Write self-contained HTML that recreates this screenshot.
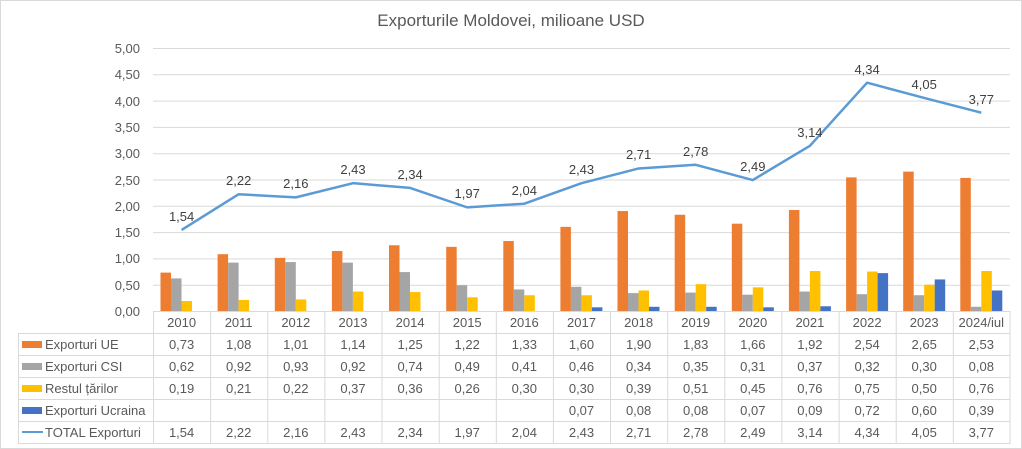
<!DOCTYPE html>
<html><head><meta charset="utf-8"><style>
html,body{margin:0;padding:0;background:#fff}
svg{display:block;font-family:"Liberation Sans",Arial,sans-serif}
</style></head><body>
<svg width="1022" height="449" viewBox="0 0 1022 449" xmlns="http://www.w3.org/2000/svg">
<rect x="0.5" y="0.5" width="1021" height="448" fill="#fff" stroke="#d9d9d9"/>
<text x="511" y="26" text-anchor="middle" font-size="17" fill="#595959">Exporturile Moldovei, milioane USD</text>
<g stroke="#d9d9d9" stroke-width="1">
<line x1="153" x2="1010" y1="48.5" y2="48.5"/><line x1="153" x2="1010" y1="74.8" y2="74.8"/>
<line x1="153" x2="1010" y1="101.1" y2="101.1"/><line x1="153" x2="1010" y1="127.4" y2="127.4"/>
<line x1="153" x2="1010" y1="153.7" y2="153.7"/><line x1="153" x2="1010" y1="180" y2="180"/>
<line x1="153" x2="1010" y1="206.3" y2="206.3"/><line x1="153" x2="1010" y1="232.6" y2="232.6"/>
<line x1="153" x2="1010" y1="258.9" y2="258.9"/><line x1="153" x2="1010" y1="285.2" y2="285.2"/>
</g>
<g font-size="13" fill="#595959" text-anchor="end">
<text x="140" y="53">5,00</text><text x="140" y="79">4,50</text><text x="140" y="106">4,00</text>
<text x="140" y="132">3,50</text><text x="140" y="158">3,00</text><text x="140" y="185">2,50</text>
<text x="140" y="211">2,00</text><text x="140" y="237">1,50</text><text x="140" y="263">1,00</text>
<text x="140" y="290">0,50</text><text x="140" y="316">0,00</text>
</g>
<g transform="translate(0,311) scale(1,-52.6)">
<g fill="#ed7d31">
<rect x="160.5" y="0" width="10.5" height="0.73"/><rect x="217.6" y="0" width="10.5" height="1.08"/>
<rect x="274.8" y="0" width="10.5" height="1.01"/><rect x="331.9" y="0" width="10.5" height="1.14"/>
<rect x="389.0" y="0" width="10.5" height="1.25"/><rect x="446.2" y="0" width="10.5" height="1.22"/>
<rect x="503.3" y="0" width="10.5" height="1.33"/><rect x="560.4" y="0" width="10.5" height="1.60"/>
<rect x="617.5" y="0" width="10.5" height="1.90"/><rect x="674.7" y="0" width="10.5" height="1.83"/>
<rect x="731.8" y="0" width="10.5" height="1.66"/><rect x="788.9" y="0" width="10.5" height="1.92"/>
<rect x="846.1" y="0" width="10.5" height="2.54"/><rect x="903.2" y="0" width="10.5" height="2.65"/>
<rect x="960.3" y="0" width="10.5" height="2.53"/>
</g>
<g fill="#a5a5a5">
<rect x="171" y="0" width="10.5" height="0.62"/><rect x="228.1" y="0" width="10.5" height="0.92"/>
<rect x="285.3" y="0" width="10.5" height="0.93"/><rect x="342.4" y="0" width="10.5" height="0.92"/>
<rect x="399.5" y="0" width="10.5" height="0.74"/><rect x="456.7" y="0" width="10.5" height="0.49"/>
<rect x="513.8" y="0" width="10.5" height="0.41"/><rect x="570.9" y="0" width="10.5" height="0.46"/>
<rect x="628.0" y="0" width="10.5" height="0.34"/><rect x="685.2" y="0" width="10.5" height="0.35"/>
<rect x="742.3" y="0" width="10.5" height="0.31"/><rect x="799.4" y="0" width="10.5" height="0.37"/>
<rect x="856.6" y="0" width="10.5" height="0.32"/><rect x="913.7" y="0" width="10.5" height="0.30"/>
<rect x="970.8" y="0" width="10.5" height="0.08"/>
</g>
<g fill="#ffc000">
<rect x="181.5" y="0" width="10.5" height="0.19"/><rect x="238.6" y="0" width="10.5" height="0.21"/>
<rect x="295.8" y="0" width="10.5" height="0.22"/><rect x="352.9" y="0" width="10.5" height="0.37"/>
<rect x="410.0" y="0" width="10.5" height="0.36"/><rect x="467.2" y="0" width="10.5" height="0.26"/>
<rect x="524.3" y="0" width="10.5" height="0.30"/><rect x="581.4" y="0" width="10.5" height="0.30"/>
<rect x="638.5" y="0" width="10.5" height="0.39"/><rect x="695.7" y="0" width="10.5" height="0.51"/>
<rect x="752.8" y="0" width="10.5" height="0.45"/><rect x="809.9" y="0" width="10.5" height="0.76"/>
<rect x="867.1" y="0" width="10.5" height="0.75"/><rect x="924.2" y="0" width="10.5" height="0.50"/>
<rect x="981.3" y="0" width="10.5" height="0.76"/>
</g>
<g fill="#4472c4">
<rect x="591.9" y="0" width="10.5" height="0.07"/>
<rect x="649.0" y="0" width="10.5" height="0.08"/><rect x="706.2" y="0" width="10.5" height="0.08"/>
<rect x="763.3" y="0" width="10.5" height="0.07"/><rect x="820.4" y="0" width="10.5" height="0.09"/>
<rect x="877.6" y="0" width="10.5" height="0.72"/><rect x="934.7" y="0" width="10.5" height="0.60"/>
<rect x="991.8" y="0" width="10.5" height="0.39"/>
</g>
<polyline fill="none" stroke="#5b9bd5" stroke-width="2.5" vector-effect="non-scaling-stroke" stroke-linejoin="round"
points="181.6,1.54 238.7,2.22 295.8,2.16 353,2.43 410.1,2.34 467.2,1.97 524.3,2.04 581.5,2.43 638.6,2.71 695.7,2.78 752.8,2.49 809.9,3.14 867.1,4.34 924.2,4.05 981.3,3.77"/>
</g>
<g font-size="13" fill="#404040" text-anchor="middle">
<text x="181.6" y="221">1,54</text><text x="238.7" y="185">2,22</text><text x="295.8" y="188">2,16</text>
<text x="353" y="174">2,43</text><text x="410.1" y="179">2,34</text><text x="467.2" y="198">1,97</text>
<text x="524.3" y="195">2,04</text><text x="581.5" y="174">2,43</text><text x="638.6" y="159">2,71</text>
<text x="695.7" y="156">2,78</text><text x="752.8" y="171">2,49</text><text x="809.9" y="137">3,14</text>
<text x="867.1" y="74">4,34</text><text x="924.2" y="89">4,05</text><text x="981.3" y="104">3,77</text>
</g>
<!-- table -->
<g stroke="#d9d9d9" stroke-width="1">
<line x1="153" x2="1010" y1="311.5" y2="311.5"/>
<line x1="18" x2="1010" y1="333.5" y2="333.5"/><line x1="18" x2="1010" y1="355.5" y2="355.5"/>
<line x1="18" x2="1010" y1="377.5" y2="377.5"/><line x1="18" x2="1010" y1="399.5" y2="399.5"/>
<line x1="18" x2="1010" y1="421.5" y2="421.5"/><line x1="18" x2="1010" y1="443.5" y2="443.5"/>
<line x1="18.5" x2="18.5" y1="333" y2="444"/>
<line x1="153.5" x2="153.5" y1="311" y2="444"/><line x1="210.6" x2="210.6" y1="311" y2="444"/>
<line x1="267.8" x2="267.8" y1="311" y2="444"/><line x1="324.9" x2="324.9" y1="311" y2="444"/>
<line x1="382" x2="382" y1="311" y2="444"/><line x1="439.2" x2="439.2" y1="311" y2="444"/>
<line x1="496.3" x2="496.3" y1="311" y2="444"/><line x1="553.4" x2="553.4" y1="311" y2="444"/>
<line x1="610.5" x2="610.5" y1="311" y2="444"/><line x1="667.7" x2="667.7" y1="311" y2="444"/>
<line x1="724.8" x2="724.8" y1="311" y2="444"/><line x1="781.9" x2="781.9" y1="311" y2="444"/>
<line x1="839.1" x2="839.1" y1="311" y2="444"/><line x1="896.2" x2="896.2" y1="311" y2="444"/>
<line x1="953.3" x2="953.3" y1="311" y2="444"/><line x1="1010" x2="1010" y1="311" y2="444"/>
</g>
<rect x="22" y="341" width="20" height="7" fill="#ed7d31"/>
<rect x="22" y="363" width="20" height="7" fill="#a5a5a5"/>
<rect x="22" y="385" width="20" height="7" fill="#ffc000"/>
<rect x="22" y="407" width="20" height="7" fill="#4472c4"/>
<line x1="22" x2="43" y1="432" y2="432" stroke="#5b9bd5" stroke-width="2"/>
<g font-size="13" fill="#595959">
<text x="45" y="349">Exporturi UE</text><text x="45" y="371">Exporturi CSI</text>
<text x="45" y="393">Restul țărilor</text><text x="45" y="415">Exporturi Ucraina</text>
<text x="45" y="437">TOTAL Exporturi</text>
</g>
<g font-size="13" fill="#595959" text-anchor="middle">
<text y="327"><tspan x="181.6">2010</tspan><tspan x="238.7">2011</tspan><tspan x="295.8">2012</tspan><tspan x="353">2013</tspan><tspan x="410.1">2014</tspan><tspan x="467.2">2015</tspan><tspan x="524.3">2016</tspan><tspan x="581.5">2017</tspan><tspan x="638.6">2018</tspan><tspan x="695.7">2019</tspan><tspan x="752.8">2020</tspan><tspan x="809.9">2021</tspan><tspan x="867.1">2022</tspan><tspan x="924.2">2023</tspan><tspan x="981.3">2024/iul</tspan></text>
<text y="349"><tspan x="181.6">0,73</tspan><tspan x="238.7">1,08</tspan><tspan x="295.8">1,01</tspan><tspan x="353">1,14</tspan><tspan x="410.1">1,25</tspan><tspan x="467.2">1,22</tspan><tspan x="524.3">1,33</tspan><tspan x="581.5">1,60</tspan><tspan x="638.6">1,90</tspan><tspan x="695.7">1,83</tspan><tspan x="752.8">1,66</tspan><tspan x="809.9">1,92</tspan><tspan x="867.1">2,54</tspan><tspan x="924.2">2,65</tspan><tspan x="981.3">2,53</tspan></text>
<text y="371"><tspan x="181.6">0,62</tspan><tspan x="238.7">0,92</tspan><tspan x="295.8">0,93</tspan><tspan x="353">0,92</tspan><tspan x="410.1">0,74</tspan><tspan x="467.2">0,49</tspan><tspan x="524.3">0,41</tspan><tspan x="581.5">0,46</tspan><tspan x="638.6">0,34</tspan><tspan x="695.7">0,35</tspan><tspan x="752.8">0,31</tspan><tspan x="809.9">0,37</tspan><tspan x="867.1">0,32</tspan><tspan x="924.2">0,30</tspan><tspan x="981.3">0,08</tspan></text>
<text y="393"><tspan x="181.6">0,19</tspan><tspan x="238.7">0,21</tspan><tspan x="295.8">0,22</tspan><tspan x="353">0,37</tspan><tspan x="410.1">0,36</tspan><tspan x="467.2">0,26</tspan><tspan x="524.3">0,30</tspan><tspan x="581.5">0,30</tspan><tspan x="638.6">0,39</tspan><tspan x="695.7">0,51</tspan><tspan x="752.8">0,45</tspan><tspan x="809.9">0,76</tspan><tspan x="867.1">0,75</tspan><tspan x="924.2">0,50</tspan><tspan x="981.3">0,76</tspan></text>
<text y="415"><tspan x="581.5">0,07</tspan><tspan x="638.6">0,08</tspan><tspan x="695.7">0,08</tspan><tspan x="752.8">0,07</tspan><tspan x="809.9">0,09</tspan><tspan x="867.1">0,72</tspan><tspan x="924.2">0,60</tspan><tspan x="981.3">0,39</tspan></text>
<text y="437"><tspan x="181.6">1,54</tspan><tspan x="238.7">2,22</tspan><tspan x="295.8">2,16</tspan><tspan x="353">2,43</tspan><tspan x="410.1">2,34</tspan><tspan x="467.2">1,97</tspan><tspan x="524.3">2,04</tspan><tspan x="581.5">2,43</tspan><tspan x="638.6">2,71</tspan><tspan x="695.7">2,78</tspan><tspan x="752.8">2,49</tspan><tspan x="809.9">3,14</tspan><tspan x="867.1">4,34</tspan><tspan x="924.2">4,05</tspan><tspan x="981.3">3,77</tspan></text>
</g>
</svg>
</body></html>
